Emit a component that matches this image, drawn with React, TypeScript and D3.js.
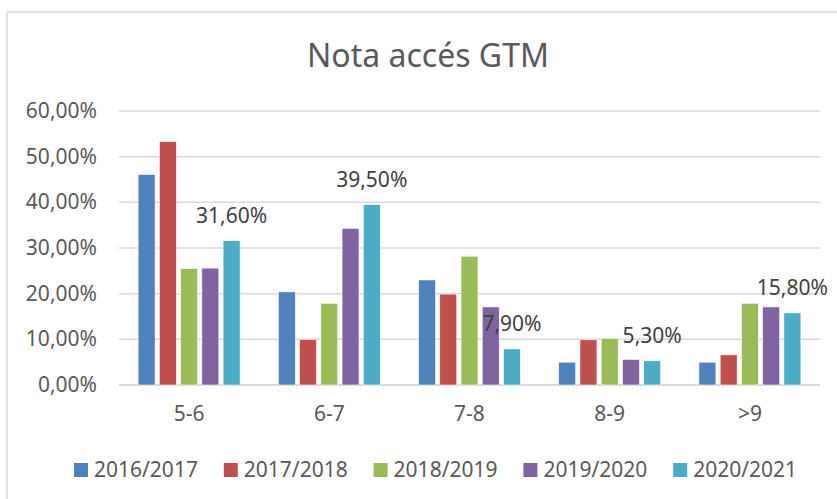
import React from "react";
import * as d3 from "d3";

const categories = ["5-6", "6-7", "7-8", "8-9", ">9"];
const seriesNames = ["2016/2017", "2017/2018", "2018/2019", "2019/2020", "2020/2021"];
const s2016 = [46.1, 20.4, 23.0, 5.0, 5.0];
const s2017 = [53.3, 10.0, 19.9, 9.9, 6.6];
const s2018 = [25.5, 17.9, 28.2, 10.2, 17.9];
const s2019 = [25.6, 34.3, 17.1, 5.6, 17.1];
const s2020 = [31.6, 39.5, 7.9, 5.3, 15.8];
const yTicks = [0, 10, 20, 30, 40, 50, 60];
const colors = ["#4f81bd", "#c0504d", "#9bbb59", "#8064a2", "#4bacc6"];

const seriesValues = [s2016, s2017, s2018, s2019, s2020];

const WIDTH = 837;
const HEIGHT = 499;
const FONT = "'Noto Sans', 'Open Sans', sans-serif";

const fmt = (v: number) => v.toFixed(2).replace(".", ",") + "%";

export default function App() {
  const plot = { left: 119, right: 820, top: 111, bottom: 385 };

  const x0 = d3.scaleBand().domain(categories).range([plot.left, plot.right]);
  const x1 = d3
    .scaleBand()
    .domain(seriesNames)
    .range([0, x0.bandwidth()])
    .paddingInner(0.2)
    .paddingOuter(0.9);
  const y = d3.scaleLinear().domain([0, 60]).range([plot.bottom, plot.top]);

  return (
    <svg
      width={WIDTH}
      height={HEIGHT}
      style={{ position: "absolute", left: 0, top: 0, background: "#fff" }}
      fontFamily={FONT}
    >
      {/* chart area border */}
      <line x1={7} y1={12} x2={WIDTH} y2={12} stroke="#d9d9d9" strokeWidth={1.5} />
      <line x1={7} y1={12} x2={7} y2={HEIGHT} stroke="#d9d9d9" strokeWidth={1.5} />

      <text x={428} y={67} textAnchor="middle" fontSize={32} fill="#595959">
        Nota accés GTM
      </text>

      {/* grid + y labels */}
      {yTicks.map((t) => (
        <g key={t}>
          <line
            x1={plot.left}
            x2={plot.right}
            y1={y(t)}
            y2={y(t)}
            stroke="#d9d9d9"
            strokeWidth={t === 0 ? 2 : 1.5}
          />
          <text x={97} y={y(t) + 7} textAnchor="end" fontSize={21} fill="#595959">
            {fmt(t)}
          </text>
        </g>
      ))}

      {/* bars */}
      {categories.map((c, ci) => (
        <g key={c} transform={`translate(${x0(c)},0)`}>
          {seriesNames.map((s, si) => {
            const v = seriesValues[si][ci];
            return (
              <rect
                key={s}
                x={x1(s)}
                y={y(v)}
                width={x1.bandwidth()}
                height={y(0) - y(v)}
                fill={colors[si]}
                stroke="#fff"
                strokeWidth={0.6}
              />
            );
          })}
          {/* data label for last series */}
          <text
            x={(x1(seriesNames[4]) as number) + x1.bandwidth() / 2}
            y={y(s2020[ci]) - 17.5}
            textAnchor="middle"
            fontSize={21}
            fill="#404040"
          >
            {fmt(s2020[ci])}
          </text>
          <text
            x={x0.bandwidth() / 2}
            y={421}
            textAnchor="middle"
            fontSize={21}
            fill="#595959"
          >
            {c}
          </text>
        </g>
      ))}

      {/* legend */}
      {seriesNames.map((s, i) => (
        <g key={s} transform={`translate(${74 + i * 149.8},463)`}>
          <rect width={14} height={14} fill={colors[i]} />
          <text x={20} y={14} fontSize={21} fill="#595959">
            {s}
          </text>
        </g>
      ))}
    </svg>
  );
}
